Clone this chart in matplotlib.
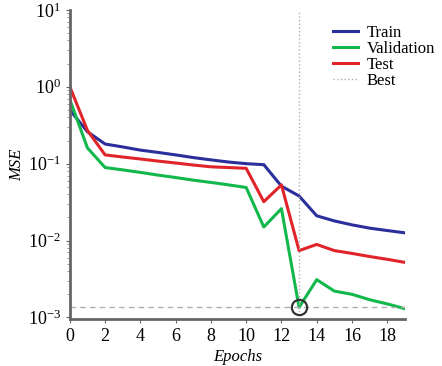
import matplotlib
matplotlib.use("Agg")
import matplotlib.pyplot as plt
import numpy as np

epochs = np.arange(0, 20)
train = [0.5, 0.26, 0.18, 0.165, 0.15, 0.14, 0.13, 0.12, 0.112, 0.105, 0.1, 0.097,
         0.051, 0.038, 0.021, 0.018, 0.016, 0.0145, 0.0135, 0.0126]
valid = [0.68, 0.16, 0.089, 0.083, 0.077, 0.071, 0.066, 0.061, 0.057, 0.053, 0.049, 0.015,
         0.026, 0.00135, 0.0031, 0.0022, 0.002, 0.0017, 0.0015, 0.0013]
test = [1.0, 0.27, 0.13, 0.122, 0.115, 0.108, 0.102, 0.096, 0.091, 0.089, 0.087, 0.032,
        0.053, 0.0074, 0.0089, 0.0074, 0.0068, 0.0062, 0.0057, 0.0052]
best_epoch = 13
best_val = 0.00135

plt.rcParams['font.family'] = ['Liberation Serif', 'DejaVu Serif']
plt.rcParams['mathtext.fontset'] = 'stix'

fig = plt.figure(figsize=(4.42, 3.66), dpi=100)
ax = fig.add_axes([0.158, 0.128, 0.758, 0.845])

ax.plot(epochs, train, color="#2a2f9c", lw=2.2, label="Train")
ax.plot(epochs, valid, color="#12b84c", lw=2.2, label="Validation")
ax.plot(epochs, test, color="#e0242a", lw=2.2, label="Test")
ax.axvline(best_epoch, color="#b0b0b0", lw=1, ls=":", label="Best")
ax.axhline(best_val, color="#b0b0b0", lw=1, ls=(0, (4, 3)))
ax.plot(best_epoch, best_val, "o", ms=11, mfc="none", mec="#333333", mew=1.6)

ax.set_yscale("log")
ax.set_ylim(1e-3 * 0.95, 10)
ax.set_xlim(0, 19)
ax.set_xticks(np.arange(0, 20, 2))
ax.spines["top"].set_visible(False)
ax.spines["right"].set_visible(False)
ax.spines["left"].set_color("#666666")
ax.spines["bottom"].set_color("#666666")
ax.spines["left"].set_linewidth(2)
ax.spines["bottom"].set_linewidth(2)
ax.tick_params(labelsize=13, length=3, color="#666666")
ax.tick_params(which="minor", length=2, color="#888888")
ax.set_ylabel("MSE", fontstyle="italic", fontsize=12, labelpad=2)
ax.set_xlabel("Epochs", fontstyle="italic", fontsize=12, labelpad=3)

fig.legend(loc="upper left", bbox_to_anchor=(0.735, 0.955), frameon=False, fontsize=12,
           handlelength=1.5, handletextpad=0.5, labelspacing=0.0, borderpad=0)

fig.savefig("out.png", dpi=100)
